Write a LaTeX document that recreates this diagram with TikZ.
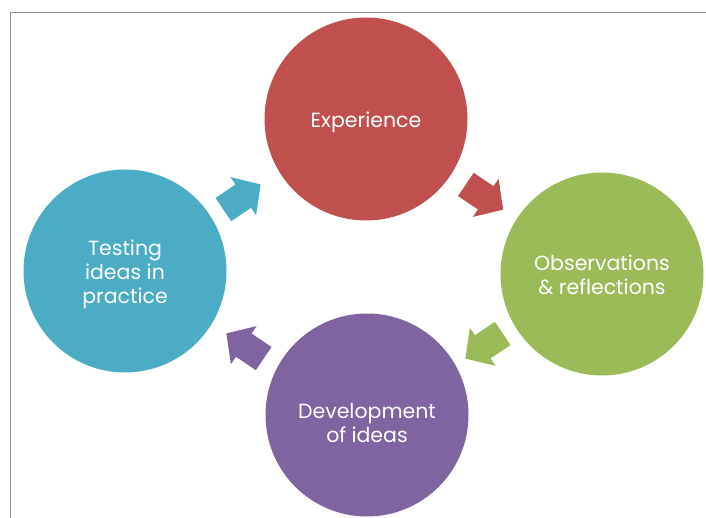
\documentclass[tikz,border=0pt]{standalone}
\usepackage{fontspec}
\setmainfont{Poppins}
\begin{document}
\begin{tikzpicture}[x=1pt,y=1pt,
  cyc/.style={circle,minimum size=203pt,inner sep=0pt,text=white,align=center,
     font=\fontsize{20.5}{24}\selectfont},
  blockarrow/.pic={\fill[pic actions] (-22.5,-14) -- (1.5,-14) -- (1.5,-23) -- (22.5,0) -- (1.5,23) -- (1.5,14) -- (-22.5,14) -- cycle;}
]
\definecolor{cred}{HTML}{C0504D}
\definecolor{cgreen}{HTML}{9BBB59}
\definecolor{cpurple}{HTML}{8064A2}
\definecolor{ccyan}{HTML}{4BACC6}
\definecolor{frame}{HTML}{8C8C8C}
\useasboundingbox (0,0) rectangle (706,518);
\fill[white] (0,0) rectangle (706,518);
\draw[frame,line width=1pt] (10.5,0) -- (10.5,505) -- (706,505);
\node[cyc,fill=cred] (exp) at (366,399) {};
\node[cyc,fill=cgreen] (obs) at (602,244) {};
\node[cyc,fill=cpurple] (dev) at (367,103) {};
\node[cyc,fill=ccyan] (test) at (125,247) {};
\node[cyc,minimum size=0pt] (expt) at ([yshift=-3pt]exp.center) {Experience};
\node[cyc,minimum size=0pt] (obst) at ([yshift=-1pt]obs.center) {Observations\\\& reflections};
\node[cyc,minimum size=0pt] (devt) at ([yshift=-8pt]dev.center) {Development\\of ideas};
\node[cyc,minimum size=0pt] (testt) at ([yshift=-3pt]test.center) {Testing\\ideas in\\practice};
\pic[fill=ccyan,rotate=34] at (242,321) {blockarrow};
\pic[fill=cred,rotate=-34] at (484.5,321) {blockarrow};
\pic[fill=cgreen,rotate=214] at (484,172) {blockarrow};
\pic[fill=cpurple,rotate=146] at (245,172) {blockarrow};
\end{tikzpicture}
\end{document}
